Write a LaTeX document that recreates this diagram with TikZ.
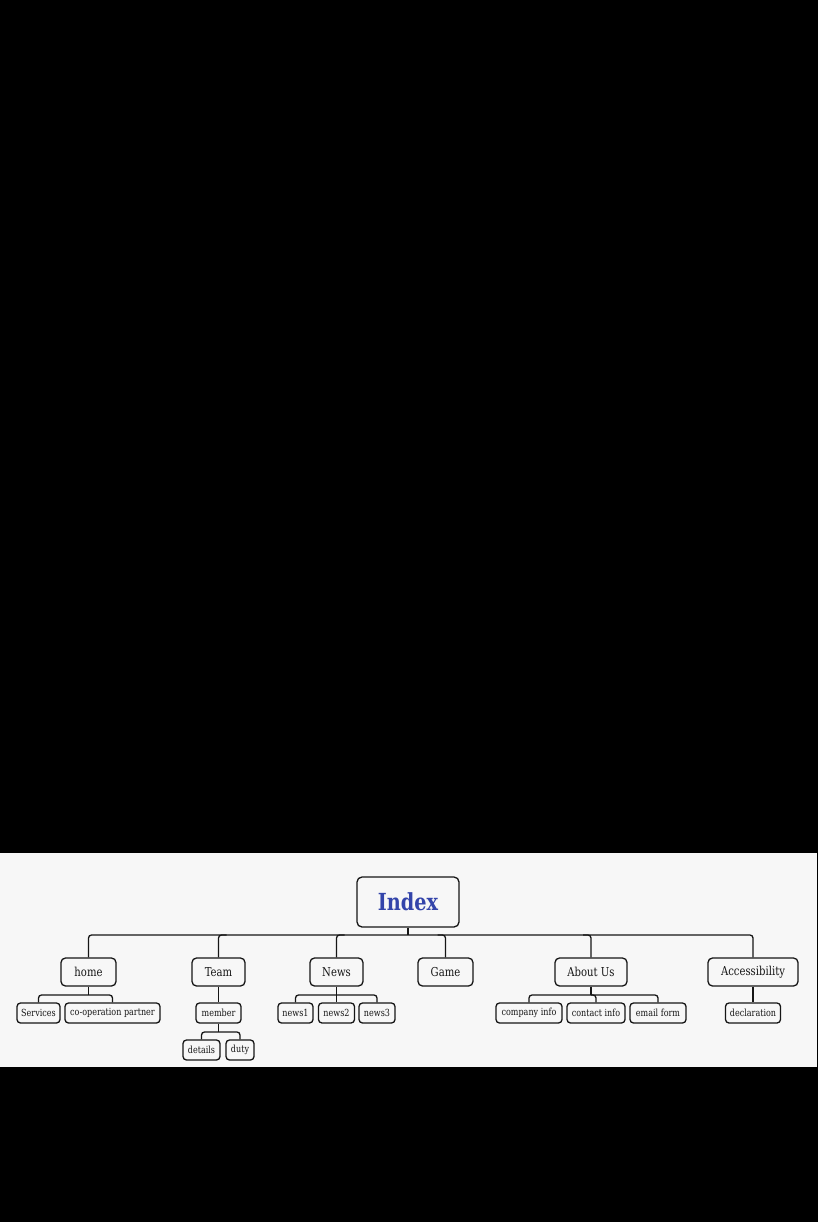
\documentclass[tikz,border=0pt]{standalone}
\usepackage{fontspec}
\usetikzlibrary{calc}
\setmainfont{DejaVu Serif}[FakeStretch=0.82]
\definecolor{bandgray}{HTML}{F7F7F7}
\definecolor{idxblue}{HTML}{3344AA}
\definecolor{inkline}{HTML}{161616}
\begin{document}
\begin{tikzpicture}[x=1pt,y=-1pt,
  box/.style={draw=inkline, line width=1.3pt, rounded corners=4pt, fill=bandgray, inner sep=0pt, align=center, text=inkline},
  lvone/.style={box, minimum height=28pt, rounded corners=4.5pt, font=\fontsize{12.3}{13}\selectfont},
  lvtwo/.style={box, minimum height=20pt, rounded corners=3.5pt, font=\fontsize{9.8}{10}\selectfont},
  link/.style={draw=inkline, line width=1.3pt, rounded corners=3pt}]
\fill[black] (0,0) rectangle (818,1222);
\fill[bandgray] (0,853) rectangle (816.5,1067);
\useasboundingbox (0,0) rectangle (818,1222);

% root
\node[box, minimum width=102pt, minimum height=50pt, rounded corners=5pt,
      font=\fontsize{23.5}{25}\selectfont\bfseries, text=idxblue] (index) at (408,902) {Index};

% level 1
\node[lvone, minimum width=55pt] (home)   at (88.5,972)  {home};
\node[lvone, minimum width=53pt] (team)   at (218.5,972) {Team};
\node[lvone, minimum width=53pt] (news)   at (336.5,972) {News};
\node[lvone, minimum width=55pt] (game)   at (445.5,972) {Game};
\node[lvone, minimum width=72pt] (about)  at (591,972)   {About Us};
\node[lvone, minimum width=90pt] (access) at (753,972)   {Accessibility};

% level 2
\node[lvtwo, minimum width=43pt] (services) at (38.5,1013)  {Services};
\node[lvtwo, minimum width=95pt] (coop)     at (112.5,1013) {co-operation partner};
\node[lvtwo, minimum width=45pt] (member)   at (218.5,1013) {member};
\node[lvtwo, minimum width=35pt] (newsa)    at (295.5,1013) {news1};
\node[lvtwo, minimum width=36pt] (newsb)    at (336.5,1013) {news2};
\node[lvtwo, minimum width=36pt] (newsc)    at (377,1013)   {news3};
\node[lvtwo, minimum width=66pt] (company)  at (529,1013)   {company info};
\node[lvtwo, minimum width=58pt] (contact)  at (596,1013)   {contact info};
\node[lvtwo, minimum width=56pt] (email)    at (658,1013)   {email form};
\node[lvtwo, minimum width=55pt] (decl)     at (753,1013)   {declaration};

% level 3
\node[lvtwo, minimum width=37pt] (details) at (201.5,1050) {details};
\node[lvtwo, minimum width=28pt] (duty)    at (240,1050)   {duty};

% bus points
\coordinate (bidx)   at (408,935);
\coordinate (bhome)  at (88.5,995);
\coordinate (bnews)  at (336.5,995);
\coordinate (babout) at (591,995);
\coordinate (bmem)   at (218.5,1032);

% top bus
\draw[link] (index.south) -- (bidx);
\draw[link] (home.north) |- (bidx) -| (access.north);
\draw[link] ($(team.north|-bidx)+(8,0)$) -| (team.north);
\draw[link] ($(news.north|-bidx)+(8,0)$) -| (news.north);
\draw[link] ($(game.north|-bidx)+(-8,0)$) -| (game.north);
\draw[link] ($(about.north|-bidx)+(-8,0)$) -| (about.north);

% home
\draw[link] (home.south) -- (bhome);
\draw[link] (services.north) |- (bhome) -| (coop.north);

% team
\draw[link] (team.south) -- (member.north);
\draw[link] (member.south) -- (bmem);
\draw[link] (details.north) |- (bmem) -| (duty.north);

% news
\draw[link] (news.south) -- (newsb.north);
\draw[link] (newsa.north) |- (bnews) -| (newsc.north);

% about
\draw[link] (about.south) -- (babout);
\draw[link] (company.north) |- (babout) -| (email.north);
\draw[link] (babout) -| (contact.north);

% accessibility
\draw[link] (access.south) -- (decl.north);
\end{tikzpicture}
\end{document}
